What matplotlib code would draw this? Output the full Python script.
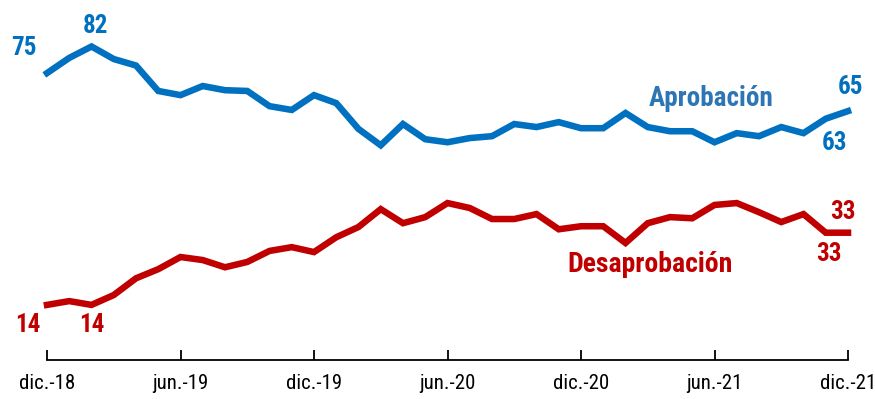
import matplotlib
matplotlib.use("Agg")
import matplotlib.pyplot as plt

# Monthly approval / disapproval ratings, Dec 2018 - Dec 2021
months = list(range(37))
aprobacion = [75, 79, 82, 78.7, 77, 70.3, 69.2, 71.6, 70.5, 70.3, 66.3, 65.3,
              69.2, 67.1, 60.3, 56, 61.6, 57.6, 56.8, 57.9, 58.4, 61.6, 60.8,
              62.1, 60.5, 60.5, 64.5, 60.8, 59.7, 59.7, 56.8, 59.2, 58.4, 60.8,
              59.2, 63, 65]
desaprobacion = [14, 15, 14, 16.6, 21, 23.4, 26.6, 25.8, 23.9, 25.3, 28.2, 29.2,
                 27.9, 31.8, 34.5, 39.2, 35.5, 37.1, 40.8, 39.5, 36.6, 36.6, 37.9,
                 33.9, 34.7, 34.7, 30.3, 35.5, 37.1, 36.8, 40.3, 40.8, 38.4, 35.8,
                 37.9, 33, 33]
tick_pos = [0, 6, 12, 18, 24, 30, 36]
tick_labels = ["dic.-18", "jun.-19", "dic.-19", "jun.-20", "dic.-20", "jun.-21", "dic.-21"]

BLUE = "#0070C0"
BLUE_TXT = "#2E75B6"
RED = "#C00000"

plt.rcParams["font.family"] = ["Roboto Condensed", "Liberation Sans", "DejaVu Sans"]

fig = plt.figure(figsize=(8.75, 3.99), dpi=100)
ax = fig.add_axes([47 / 875, 39 / 399, 801 / 875, 357.2 / 399])

ax.plot(months, aprobacion, color=BLUE, lw=4.7, solid_joinstyle="miter", clip_on=False)
ax.plot(months, desaprobacion, color=RED, lw=4.7, solid_joinstyle="miter", clip_on=False)

ax.set_xlim(0, 36)
ax.set_ylim(-0.5, 93.5)
for s in ["top", "right", "left"]:
    ax.spines[s].set_visible(False)
ax.spines["bottom"].set_linewidth(1.3)
ax.set_yticks([])
ax.set_xticks(tick_pos)
ax.set_xticklabels(tick_labels, fontsize=15)
ax.tick_params(axis="x", direction="in", length=7, width=1.3, pad=10)

# value labels at selected points
def label(i, series, text, dx, dy, color):
    ax.annotate(text, xy=(months[i], series[i]), xytext=(dx, dy),
                textcoords="offset points", ha="center", va="center",
                fontsize=18, fontweight="bold", color=color,
                annotation_clip=False)

label(0, aprobacion, "75", -17, 18, BLUE)
label(2, aprobacion, "82", 2.5, 15, BLUE)
label(36, aprobacion, "65", 1.5, 17, BLUE)
label(35, aprobacion, "63", 6.5, -17.5, BLUE)
label(36, desaprobacion, "33", -3.5, 15, RED)
label(35, desaprobacion, "33", 2, -15, RED)
label(0, desaprobacion, "14", -13.7, -14.4, RED)
label(2, desaprobacion, "14", 0.4, -14.4, RED)

# series names
ax.text(29.84, 68.4, "Aprobación", ha="center", va="center", fontsize=19.5,
        fontweight="bold", color=BLUE_TXT)
ax.text(27.1, 24.5, "Desaprobación", ha="center", va="center", fontsize=20,
        fontweight="bold", color=RED)

fig.savefig("out.png", dpi=100)
